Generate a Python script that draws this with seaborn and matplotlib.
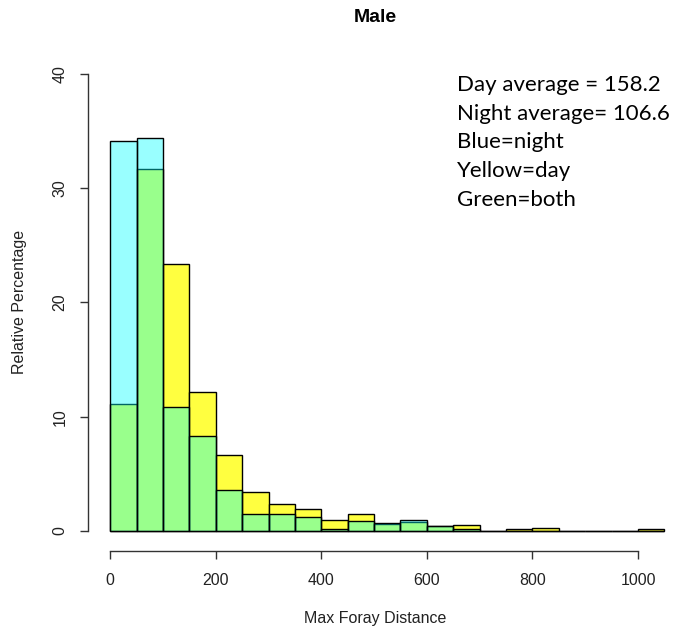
import numpy as np
import pandas as pd
import matplotlib
matplotlib.use("Agg")
import matplotlib.pyplot as plt
import seaborn as sns

# Histogram bins (width 50) and relative percentages per bin
bin_edges = list(range(0, 1051, 50))
day_pct = [11.1, 31.7, 23.4, 12.16, 6.62, 3.41, 2.33, 1.92, 0.96, 1.49, 0.6,
           0.79, 0.44, 0.5, 0.0, 0.17, 0.29, 0.0, 0.0, 0.0, 0.17]
night_pct = [34.15, 34.4, 10.85, 8.28, 3.59, 1.46, 1.46, 1.19, 0.16, 0.9, 0.67,
             0.96, 0.44, 0.15, 0.0, 0.0, 0.0, 0.0, 0.0, 0.0, 0.0]
y_ticks = [0, 10, 20, 30, 40]
x_ticks = [0, 200, 400, 600, 800, 1000]
notes = ["Day average = 158.2", "Night average= 106.6", "Blue=night",
         "Yellow=day", "Green=both"]

centers = [(a + b) / 2 for a, b in zip(bin_edges[:-1], bin_edges[1:])]
df = pd.DataFrame({"mid": centers, "day": day_pct, "night": night_pct})

sns.set_style("ticks")
plt.rcParams["font.family"] = ["Liberation Sans", "DejaVu Sans"]

W, H = 675, 633
fig = plt.figure(figsize=(W / 100, H / 100), dpi=100)
ax = fig.add_axes([88 / W, (H - 551) / H, 598.6 / W, 495.3 / H])

sns.histplot(data=df, x="mid", weights="day", bins=bin_edges, ax=ax,
             color=(1.0, 1.0, 0.25), alpha=1.0, edgecolor="black", linewidth=1.0)
sns.histplot(data=df, x="mid", weights="night", bins=bin_edges, ax=ax,
             color=(0.0, 1.0, 1.0), alpha=0.4, edgecolor="black", linewidth=1.0)

ax.set_xlim(-42, 1092)
ax.set_ylim(-1.75, 41.6)
sns.despine(ax=ax)
ax.spines["left"].set_bounds(0, 40)
ax.spines["bottom"].set_bounds(0, 1000)
for s in ("left", "bottom"):
    ax.spines[s].set_color("#333333")
    ax.spines[s].set_linewidth(1.0)

ax.set_yticks(y_ticks)
ax.set_yticklabels([str(v) for v in y_ticks], rotation=90, va="center")
ax.set_xticks(x_ticks)
ax.set_xticklabels([str(v) for v in x_ticks])
ax.tick_params(axis="both", direction="out", length=5.8, width=1.0,
               color="#333333", labelsize=11.5, labelcolor="#222222")
ax.tick_params(axis="y", pad=9)
ax.tick_params(axis="x", pad=10)
ax.set_xlabel("")
ax.set_ylabel("")

fig.text(375 / W, 1 - 18 / H, "Male", ha="center", va="center",
         fontsize=14, fontweight="bold", color="black")
fig.text(375 / W, 1 - 619 / H, "Max Foray Distance", ha="center",
         va="center", fontsize=11.5, color="#222222")
fig.text(20 / W, 1 - 302 / H, "Relative Percentage", ha="center",
         va="center", rotation=90, fontsize=11.5, color="#222222")

for i, line in enumerate(notes):
    fig.text(457 / W, 1 - (85 + 28.7 * i) / H, line, ha="left", va="center",
             fontsize=16, family=["Lato", "DejaVu Sans"], color="black")

fig.savefig("out.png", dpi=100)
